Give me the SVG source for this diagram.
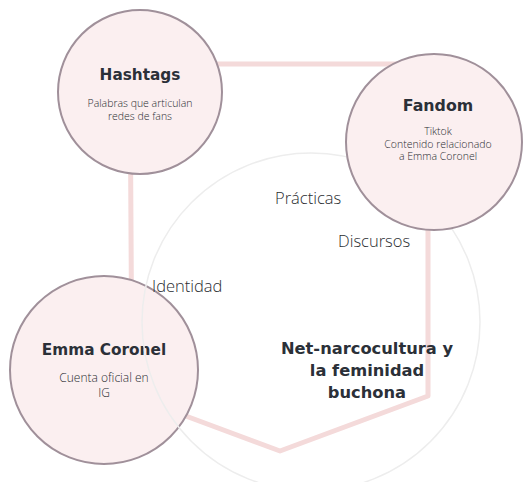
<svg xmlns="http://www.w3.org/2000/svg" width="529" height="482" viewBox="0 0 529 482">
<style>
.node{fill:#fbeff0;stroke:#a0909a;stroke-width:2}
.title{font-family:"DejaVu Sans","Noto Sans",sans-serif;font-weight:700;fill:#2b3038;text-anchor:middle}
.body{font-family:"Open Sans","Noto Sans",sans-serif;font-weight:300;fill:#2a2d31;text-anchor:middle}
.lbl{font-family:"Open Sans","Noto Sans",sans-serif;font-weight:300;fill:#2a2d31;font-size:16.5px}
</style>
<rect width="529" height="482" fill="#ffffff"/>
<g id="connectors">
<path d="M130,64 L428,64 L428,396 L280,451 L132,396 Z" fill="none" stroke="#f4dada" stroke-width="5" stroke-linejoin="round"/>
</g>
<g id="emma">
<circle class="node" cx="104" cy="370" r="94"/>
<text class="title" x="104" y="355" font-size="15.3">Emma Coronel</text>
<text class="body" x="104" y="381.5" font-size="12">Cuenta oficial en</text>
<text class="body" x="104" y="397" font-size="12">IG</text>
</g>
<g id="center">
<circle cx="311" cy="322" r="169" fill="none" stroke="#ededed" stroke-width="1.5"/>
<text class="title" x="367" y="354" font-size="16.3">Net-narcocultura y</text>
<text class="title" x="367" y="376" font-size="16.3">la feminidad</text>
<text class="title" x="367" y="398" font-size="16.3">buchona</text>
</g>
<g id="hashtags">
<circle class="node" cx="140" cy="92" r="82"/>
<text class="title" x="140" y="80" font-size="15.3">Hashtags</text>
<text class="body" x="140" y="107" font-size="10.5">Palabras que articulan</text>
<text class="body" x="140" y="120" font-size="10.5">redes de fans</text>
</g>
<g id="fandom">
<circle class="node" cx="434" cy="142" r="88"/>
<text class="title" x="438" y="111" font-size="15.8">Fandom</text>
<text class="body" x="438" y="135" font-size="10.5">Tiktok</text>
<text class="body" x="438" y="147.5" font-size="10.5">Contenido relacionado</text>
<text class="body" x="438" y="160" font-size="10.5">a Emma Coronel</text>
</g>
<g id="labels">
<text class="lbl" x="275" y="204">Prácticas</text>
<text class="lbl" x="338" y="247">Discursos</text>
<text class="lbl" x="152" y="292">Identidad</text>
</g>
</svg>
